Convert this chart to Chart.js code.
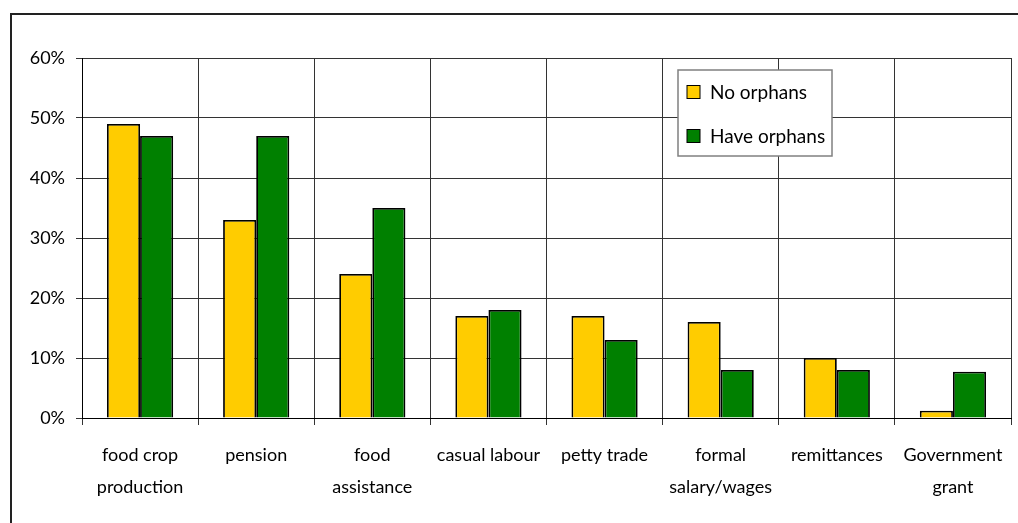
<!DOCTYPE html>
<html>
<head>
<meta charset="utf-8">
<script src="https://cdn.jsdelivr.net/npm/chart.js@4/dist/chart.umd.min.js"></script>
<style>
  html, body { margin: 0; padding: 0; background: #fff; overflow: hidden; }
  #wrap { position: relative; width: 1018px; height: 523px; }
  #frame { position: absolute; left: 10px; top: 13px; width: 1030px; height: 540px;
           border: 2px solid #222; box-sizing: border-box; }
  #c { position: absolute; left: 0; top: 0; }
</style>
</head>
<body>
<div id="wrap">
  <div id="frame"></div>
  <canvas id="c" width="1018" height="523"></canvas>
</div>
<script>
// ==========================================
// data
// ==========================================

const categories = [
    ["food crop", "production"],
    "pension",
    ["food", "assistance"],
    "casual labour",
    "petty trade",
    ["formal", "salary/wages"],
    "remittances",
    ["Government", "grant"]
];

const noOrphans   = [49, 33, 24, 17, 17, 16, 10, 1.2];
const haveOrphans = [47, 47, 35, 18, 13, 8, 8, 7.7];

const yTicks = [0, 10, 20, 30, 40, 50, 60];

const FONT = "Lato, 'DejaVu Sans', sans-serif";

// legend drawn inside the plot, boxed
const boxLegend = {
    id: "boxLegend",
    afterDraw(chart){
        const c = chart.ctx;
        c.save();
        c.fillStyle = "#fff";
        c.fillRect(678, 70, 154, 86);
        c.strokeStyle = "#808080";
        c.lineWidth = 1.5;
        c.strokeRect(678, 70, 154, 86);
        c.font = "19px " + FONT;
        c.textBaseline = "middle";
        const rows = [92, 136];
        chart.data.datasets.forEach((ds, i) => {
            c.fillStyle = ds.backgroundColor;
            c.fillRect(687, rows[i] - 6.5, 13, 13);
            c.strokeStyle = "#000";
            c.lineWidth = 1;
            c.strokeRect(687, rows[i] - 6.5, 13, 13);
            c.fillStyle = "#000";
            c.fillText(ds.label, 710, rows[i] + 1);
        });
        c.restore();
    }
};

new Chart(document.getElementById("c"), {

    type: "bar",

    data: {
        labels: categories,
        datasets: [
            {
                label: "No orphans",
                data: noOrphans,
                backgroundColor: "#FFCC00",
                borderColor: "#000",
                borderWidth: 1.8
            },
            {
                label: "Have orphans",
                data: haveOrphans,
                backgroundColor: "#008000",
                borderColor: "#000",
                borderWidth: 1.8
            }
        ]
    },

    options: {
        responsive: false,
        animation: false,
        layout: { padding: { top: 58, right: 7, left: 0, bottom: 0 } },
        categoryPercentage: 0.57,
        barPercentage: 1,
        plugins: {
            legend: { display: false },
            tooltip: { enabled: false }
        },
        scales: {
            x: {
                offset: true,
                grid: { offset: true, color: "#333", lineWidth: 1, tickLength: 7 },
                border: { color: "#000", width: 1 },
                ticks: {
                    color: "#000",
                    padding: 14,
                    maxRotation: 0,
                    autoSkip: false,
                    font: { family: FONT, size: 18, lineHeight: 1.78 }
                },
                afterFit(scale){ scale.height = 105; }
            },
            y: {
                min: 0,
                max: 60,
                afterBuildTicks(scale){
                    scale.ticks = yTicks.map(v => ({ value: v }));
                },
                grid: { color: "#333", lineWidth: 1, tickLength: 6 },
                border: { color: "#000", width: 1 },
                ticks: {
                    color: "#000",
                    padding: 11,
                    font: { family: FONT, size: 18 },
                    callback: v => v + "%"
                },
                afterFit(scale){ scale.width = 82; }
            }
        }
    },

    plugins: [boxLegend]

});
</script>
</body>
</html>
